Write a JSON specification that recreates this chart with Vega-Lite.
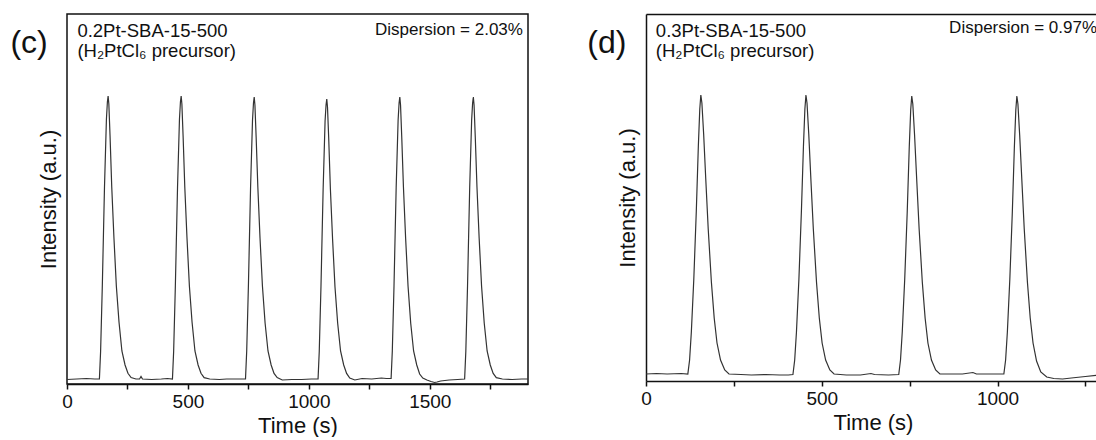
{
  "$schema": "https://vega.github.io/schema/vega-lite/v6.json",
  "padding": {"left": 9, "top": 13, "right": 0, "bottom": 0},
  "spacing": 55,
  "background": "white",
  "config": {
    "font": "Liberation Sans",
    "view": {"stroke": null},
    "axis": {
      "grid": false,
      "domainColor": "#111111",
      "domainWidth": 1.5,
      "tickColor": "#111111",
      "tickWidth": 1.5,
      "tickSize": 5,
      "labelFont": "Liberation Sans",
      "labelFontSize": 19,
      "labelColor": "#111111",
      "labelPadding": 3,
      "labelFlush": false,
      "labelOverlap": false,
      "titleFont": "Liberation Sans",
      "titleFontSize": 22,
      "titleFontWeight": "normal",
      "titleColor": "#111111",
      "titlePadding": 4
    },
    "text": {"font": "Liberation Sans", "color": "#111111"}
  },
  "datasets": {
    "c": [
      {"t": 0, "v": 4.5}, {"t": 40, "v": 5}, {"t": 80, "v": 5.5}, {"t": 115, "v": 5}, {"t": 134, "v": 5},
      {"t": 139, "v": 33}, {"t": 146, "v": 98}, {"t": 155, "v": 197}, {"t": 163, "v": 265}, {"t": 167, "v": 282}, {"t": 170, "v": 288}, {"t": 173, "v": 280}, {"t": 178, "v": 248}, {"t": 185, "v": 197}, {"t": 194, "v": 146.5}, {"t": 204, "v": 98}, {"t": 215, "v": 62}, {"t": 227, "v": 33}, {"t": 240, "v": 19}, {"t": 252, "v": 10.7}, {"t": 265, "v": 6.4},
      {"t": 285, "v": 5}, {"t": 300, "v": 5}, {"t": 306, "v": 7.5}, {"t": 312, "v": 5}, {"t": 350, "v": 4.5}, {"t": 390, "v": 5}, {"t": 415, "v": 5.5}, {"t": 436, "v": 5},
      {"t": 441, "v": 33}, {"t": 448, "v": 98}, {"t": 457, "v": 197}, {"t": 465, "v": 265}, {"t": 469, "v": 282}, {"t": 472, "v": 288}, {"t": 475, "v": 280}, {"t": 480, "v": 248}, {"t": 487, "v": 197}, {"t": 496, "v": 146.5}, {"t": 506, "v": 98}, {"t": 517, "v": 62}, {"t": 529, "v": 33}, {"t": 542, "v": 19}, {"t": 554, "v": 10.7}, {"t": 567, "v": 6.4},
      {"t": 590, "v": 5}, {"t": 630, "v": 4.5}, {"t": 660, "v": 5}, {"t": 700, "v": 5}, {"t": 738, "v": 5},
      {"t": 743, "v": 33}, {"t": 750, "v": 98}, {"t": 759, "v": 197}, {"t": 767, "v": 264}, {"t": 771, "v": 281}, {"t": 774, "v": 287}, {"t": 777, "v": 279}, {"t": 782, "v": 247}, {"t": 789, "v": 197}, {"t": 798, "v": 146}, {"t": 808, "v": 98}, {"t": 819, "v": 61}, {"t": 831, "v": 33}, {"t": 844, "v": 19}, {"t": 856, "v": 10.6}, {"t": 869, "v": 6.4},
      {"t": 890, "v": 4}, {"t": 930, "v": 4.5}, {"t": 970, "v": 4.5}, {"t": 1010, "v": 5}, {"t": 1038, "v": 5},
      {"t": 1043, "v": 33}, {"t": 1050, "v": 97}, {"t": 1059, "v": 195}, {"t": 1067, "v": 263}, {"t": 1071, "v": 279}, {"t": 1074, "v": 285}, {"t": 1077, "v": 277}, {"t": 1082, "v": 246}, {"t": 1089, "v": 195}, {"t": 1098, "v": 145}, {"t": 1108, "v": 97}, {"t": 1119, "v": 61}, {"t": 1131, "v": 33}, {"t": 1144, "v": 19}, {"t": 1156, "v": 10.6}, {"t": 1169, "v": 6},
      {"t": 1190, "v": 4}, {"t": 1220, "v": 5.5}, {"t": 1260, "v": 5}, {"t": 1300, "v": 6}, {"t": 1320, "v": 5.5}, {"t": 1340, "v": 5.5},
      {"t": 1345, "v": 33}, {"t": 1352, "v": 98}, {"t": 1361, "v": 197}, {"t": 1369, "v": 264}, {"t": 1373, "v": 281}, {"t": 1376, "v": 287}, {"t": 1379, "v": 279}, {"t": 1384, "v": 247}, {"t": 1391, "v": 197}, {"t": 1400, "v": 146}, {"t": 1410, "v": 98}, {"t": 1421, "v": 61}, {"t": 1433, "v": 33}, {"t": 1446, "v": 19}, {"t": 1458, "v": 10}, {"t": 1471, "v": 6},
      {"t": 1488, "v": 4}, {"t": 1505, "v": 2.5}, {"t": 1520, "v": 1.5}, {"t": 1530, "v": 2}, {"t": 1545, "v": 3}, {"t": 1580, "v": 4}, {"t": 1615, "v": 4.5}, {"t": 1644, "v": 5},
      {"t": 1649, "v": 33}, {"t": 1656, "v": 98}, {"t": 1665, "v": 197}, {"t": 1673, "v": 264}, {"t": 1677, "v": 281}, {"t": 1680, "v": 287}, {"t": 1683, "v": 279}, {"t": 1688, "v": 247}, {"t": 1695, "v": 197}, {"t": 1704, "v": 146}, {"t": 1714, "v": 98}, {"t": 1725, "v": 61}, {"t": 1737, "v": 33}, {"t": 1750, "v": 19}, {"t": 1762, "v": 10.6}, {"t": 1775, "v": 6.4},
      {"t": 1800, "v": 5}, {"t": 1840, "v": 4.5}, {"t": 1880, "v": 5}, {"t": 1906, "v": 5}
    ],
    "d": [
      {"t": 0, "v": 7}, {"t": 30, "v": 7.5}, {"t": 60, "v": 7}, {"t": 100, "v": 7.5}, {"t": 119, "v": 7},
      {"t": 124, "v": 21}, {"t": 129, "v": 49}, {"t": 136, "v": 102}, {"t": 143, "v": 169}, {"t": 149, "v": 236}, {"t": 153, "v": 272}, {"t": 156, "v": 286}, {"t": 159, "v": 278}, {"t": 164, "v": 247}, {"t": 170, "v": 202}, {"t": 177, "v": 152}, {"t": 186, "v": 99}, {"t": 194, "v": 63}, {"t": 202, "v": 38}, {"t": 212, "v": 21}, {"t": 224, "v": 11}, {"t": 236, "v": 7},
      {"t": 270, "v": 6.5}, {"t": 300, "v": 6}, {"t": 340, "v": 6.5}, {"t": 380, "v": 6}, {"t": 405, "v": 6}, {"t": 418, "v": 6.5},
      {"t": 423, "v": 21}, {"t": 428, "v": 49}, {"t": 435, "v": 102}, {"t": 442, "v": 169}, {"t": 448, "v": 236}, {"t": 452, "v": 272}, {"t": 455, "v": 286}, {"t": 458, "v": 278}, {"t": 463, "v": 247}, {"t": 469, "v": 202}, {"t": 476, "v": 152}, {"t": 485, "v": 99}, {"t": 493, "v": 63}, {"t": 501, "v": 38}, {"t": 511, "v": 21}, {"t": 523, "v": 11}, {"t": 535, "v": 7},
      {"t": 570, "v": 6}, {"t": 610, "v": 6}, {"t": 640, "v": 7.5}, {"t": 650, "v": 6.5}, {"t": 690, "v": 6}, {"t": 719, "v": 6.5},
      {"t": 724, "v": 21}, {"t": 729, "v": 49}, {"t": 736, "v": 102}, {"t": 743, "v": 168}, {"t": 749, "v": 235}, {"t": 753, "v": 271}, {"t": 756, "v": 285}, {"t": 759, "v": 277}, {"t": 764, "v": 246}, {"t": 770, "v": 202}, {"t": 777, "v": 152}, {"t": 786, "v": 99}, {"t": 794, "v": 63}, {"t": 802, "v": 38}, {"t": 812, "v": 21}, {"t": 824, "v": 11}, {"t": 836, "v": 7},
      {"t": 870, "v": 7}, {"t": 900, "v": 7}, {"t": 930, "v": 8.5}, {"t": 940, "v": 7}, {"t": 980, "v": 7}, {"t": 1018, "v": 7},
      {"t": 1023, "v": 21}, {"t": 1028, "v": 49}, {"t": 1035, "v": 102}, {"t": 1042, "v": 168}, {"t": 1048, "v": 235}, {"t": 1052, "v": 271}, {"t": 1055, "v": 285}, {"t": 1058, "v": 277}, {"t": 1063, "v": 246}, {"t": 1069, "v": 202}, {"t": 1076, "v": 152}, {"t": 1085, "v": 99}, {"t": 1093, "v": 63}, {"t": 1101, "v": 38}, {"t": 1111, "v": 20}, {"t": 1123, "v": 9}, {"t": 1140, "v": 4},
      {"t": 1160, "v": 2.5}, {"t": 1185, "v": 2}, {"t": 1210, "v": 3}, {"t": 1250, "v": 4.5}, {"t": 1291, "v": 6}
    ]
  },
  "hconcat": [
    {
      "width": 461,
      "height": 370,
      "view": {"stroke": "#111111", "strokeWidth": 1.5},
      "resolve": {"axis": {"x": "independent", "y": "independent"}},
      "layer": [
        {
          "data": {"name": "c"},
          "mark": {"type": "line", "color": "#333333", "strokeWidth": 1.2},
          "encoding": {
            "x": {"field": "t", "type": "quantitative",
              "scale": {"domain": [0, 1906], "nice": false, "zero": false},
              "axis": {"title": "Time (s)", "format": "d", "values": [0, 250, 500, 750, 1000, 1250, 1500, 1750],
                "labelExpr": "datum.value % 500 === 0 ? datum.label : ''"}},
            "y": {"field": "v", "type": "quantitative",
              "scale": {"domain": [0, 370], "nice": false, "zero": false},
              "axis": {"title": "Intensity (a.u.)", "labels": false, "ticks": false, "domain": false, "titlePadding": 7}}
          }
        },
        {
          "data": {"values": [{"label": "(c)"}]},
          "mark": {"type": "text", "align": "left", "baseline": "alphabetic", "fontSize": 32},
          "encoding": {
            "x": {"datum": -234, "type": "quantitative", "axis": null},
            "y": {"datum": 331, "type": "quantitative", "axis": null},
            "text": {"field": "label"}
          }
        },
        {
          "data": {"values": [{"label": "0.2Pt-SBA-15-500\n(H₂PtCl₆ precursor)"}]},
          "mark": {"type": "text", "align": "left", "baseline": "alphabetic", "fontSize": 18.5, "lineBreak": "\n", "lineHeight": 20},
          "encoding": {
            "x": {"datum": 43, "type": "quantitative", "axis": null},
            "y": {"datum": 347, "type": "quantitative", "axis": null},
            "text": {"field": "label"}
          }
        },
        {
          "data": {"values": [{"label": "Dispersion = 2.03%"}]},
          "mark": {"type": "text", "align": "right", "baseline": "alphabetic", "fontSize": 17},
          "encoding": {
            "x": {"datum": 1885, "type": "quantitative", "axis": null},
            "y": {"datum": 349, "type": "quantitative", "axis": null},
            "text": {"field": "label"}
          }
        }
      ]
    },
    {
      "width": 454,
      "height": 367,
      "resolve": {"axis": {"x": "independent", "y": "independent"}},
      "layer": [
        {
          "data": {"name": "d"},
          "mark": {"type": "line", "color": "#333333", "strokeWidth": 1.2},
          "encoding": {
            "x": {"field": "t", "type": "quantitative",
              "scale": {"domain": [0, 1291.5], "nice": false, "zero": false},
              "axis": {"title": "Time (s)", "format": "d", "values": [0, 250, 500, 750, 1000, 1250],
                "labelExpr": "datum.value % 500 === 0 ? datum.label : ''"}},
            "y": {"field": "v", "type": "quantitative",
              "scale": {"domain": [0, 367], "nice": false, "zero": false},
              "axis": {"title": "Intensity (a.u.)", "labels": false, "ticks": false, "domain": true, "titlePadding": 7}}
          }
        },
        {
          "data": {"values": [{"label": "(d)"}]},
          "mark": {"type": "text", "align": "left", "baseline": "alphabetic", "fontSize": 32},
          "encoding": {
            "x": {"datum": -167, "type": "quantitative",
              "axis": {"orient": "top", "labels": false, "ticks": false, "title": null, "domain": true}},
            "y": {"datum": 328, "type": "quantitative", "axis": null},
            "text": {"field": "label"}
          }
        },
        {
          "data": {"values": [{"label": "0.3Pt-SBA-15-500\n(H₂PtCl₆ precursor)"}]},
          "mark": {"type": "text", "align": "left", "baseline": "alphabetic", "fontSize": 18.5, "lineBreak": "\n", "lineHeight": 20},
          "encoding": {
            "x": {"datum": 28, "type": "quantitative", "axis": null},
            "y": {"datum": 344, "type": "quantitative", "axis": null},
            "text": {"field": "label"}
          }
        },
        {
          "data": {"values": [{"label": "Dispersion = 0.97%"}]},
          "mark": {"type": "text", "align": "right", "baseline": "alphabetic", "fontSize": 17},
          "encoding": {
            "x": {"datum": 1283, "type": "quantitative", "axis": null},
            "y": {"datum": 348, "type": "quantitative", "axis": null},
            "text": {"field": "label"}
          }
        }
      ]
    }
  ]
}
